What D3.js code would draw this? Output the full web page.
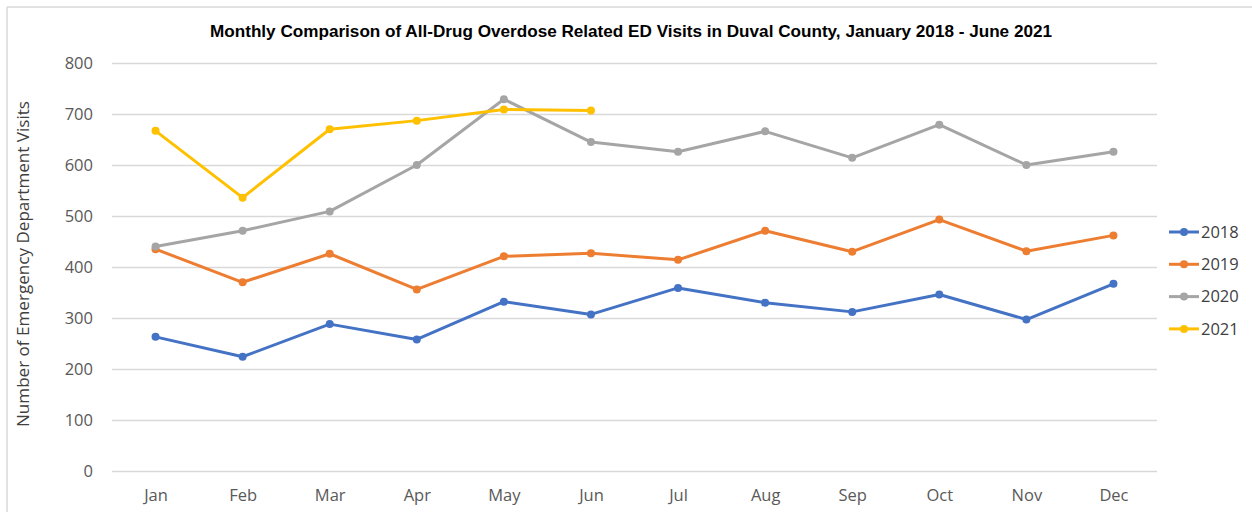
<!DOCTYPE html>
<html>
<head>
<meta charset="utf-8">
<script src="https://cdn.jsdelivr.net/npm/d3@7"></script>
<style>
  html, body { margin: 0; padding: 0; background: #fff; }
  svg { display: block; }
</style>
</head>
<body>
<svg id="chart" width="1252" height="512"></svg>
<script>
const months = ["Jan","Feb","Mar","Apr","May","Jun","Jul","Aug","Sep","Oct","Nov","Dec"];
const seriesNames = ["2018","2019","2020","2021"];
const values2018 = [263, 224, 288, 258, 332, 307, 359, 330, 312, 346, 297, 367];
const values2019 = [435, 370, 426, 356, 421, 427, 414, 471, 430, 493, 431, 462];
const values2020 = [440, 471, 509, 600, 729, 645, 626, 666, 614, 679, 600, 626];
const values2021 = [667, 536, 670, 687, 709, 707];
const yTicks = [0, 100, 200, 300, 400, 500, 600, 700, 800];
const colors = ["#4472C4", "#ED7D31", "#A5A5A5", "#FFC000"];
const titleText = "Monthly Comparison of All-Drug Overdose Related ED Visits in Duval County, January 2018 - June 2021";
const yLabel = "Number of Emergency Department Visits";

const series = [values2018, values2019, values2020, values2021].map((v, i) => ({
  name: seriesNames[i], color: colors[i], values: v
}));

const svg = d3.select("#chart");
const font = "'Open Sans', 'Noto Sans', sans-serif";

// outer frame (top and left)
svg.append("line").attr("x1", 7).attr("x2", 1252).attr("y1", 7).attr("y2", 7)
  .attr("stroke", "#d9d9d9").attr("stroke-width", 1.5);
svg.append("line").attr("x1", 7).attr("x2", 7).attr("y1", 7).attr("y2", 512)
  .attr("stroke", "#d9d9d9").attr("stroke-width", 1.5);

const x = d3.scalePoint().domain(months).range([112, 1157]).padding(0.5);
const y = d3.scaleLinear().domain([0, 800]).range([471, 63]);

// gridlines
const yAxis = d3.axisLeft(y).tickValues(yTicks).tickSize(-(1157 - 112)).tickPadding(19);
const gy = svg.append("g").attr("transform", "translate(112,0)").call(yAxis);
gy.select(".domain").remove();
gy.selectAll(".tick line").attr("stroke", "#d9d9d9").attr("stroke-width", 1.3);
gy.selectAll(".tick text").attr("fill", "#595959").attr("font-size", 16.5)
  .attr("font-family", font);

// x axis labels
const xAxis = d3.axisBottom(x).tickSize(0).tickPadding(18);
const gx = svg.append("g").attr("transform", "translate(0,471)").call(xAxis);
gx.select(".domain").remove();
gx.selectAll(".tick text").attr("fill", "#595959").attr("font-size", 16.5)
  .attr("font-family", font);

// title
svg.append("text").attr("x", 631).attr("y", 37).attr("text-anchor", "middle")
  .attr("font-family", "'Liberation Sans Narrow', 'Liberation Sans', sans-serif")
  .attr("font-weight", "bold").attr("font-size", 16.5).attr("fill", "#000")
  .attr("textLength", 842).attr("lengthAdjust", "spacingAndGlyphs")
  .text(titleText);

// y label
svg.append("text").attr("transform", "translate(29,264) rotate(-90)")
  .attr("text-anchor", "middle").attr("font-family", font).attr("font-size", 17)
  .attr("textLength", 326).attr("lengthAdjust", "spacingAndGlyphs")
  .attr("fill", "#404040").text(yLabel);

// lines
const line = d3.line().x((d, i) => x(months[i])).y(d => y(d));
const g = svg.append("g");
series.forEach(s => {
  g.append("path").datum(s.values).attr("d", line).attr("fill", "none")
    .attr("stroke", s.color).attr("stroke-width", 3).attr("stroke-linejoin", "round");
  g.selectAll(null).data(s.values).enter().append("circle")
    .attr("cx", (d, i) => x(months[i])).attr("cy", d => y(d)).attr("r", 4)
    .attr("fill", s.color);
});

// legend
const legend = svg.append("g");
series.forEach((s, i) => {
  const ly = 232 + i * 32.3;
  legend.append("line").attr("x1", 1169).attr("x2", 1199).attr("y1", ly).attr("y2", ly)
    .attr("stroke", s.color).attr("stroke-width", 3);
  legend.append("circle").attr("cx", 1184).attr("cy", ly).attr("r", 4).attr("fill", s.color);
  legend.append("text").attr("x", 1201).attr("y", ly).attr("dy", "0.35em")
    .attr("font-family", font).attr("font-size", 16.5).attr("fill", "#404040").text(s.name);
});
</script>
</body>
</html>
